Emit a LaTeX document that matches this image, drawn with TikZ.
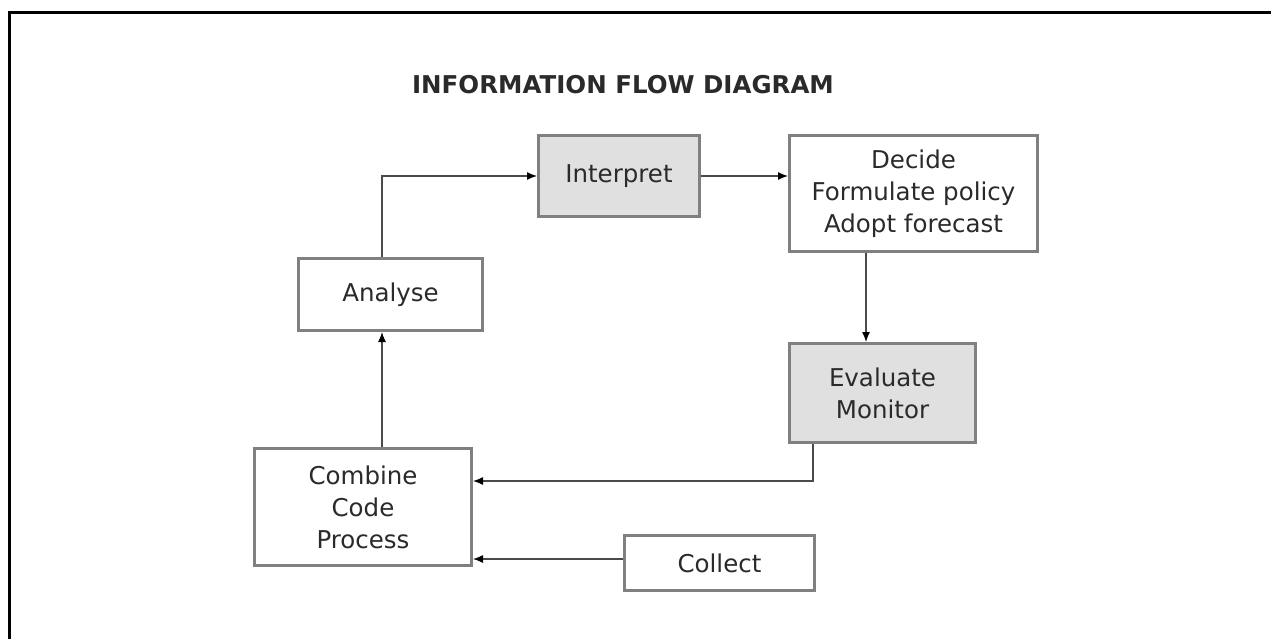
\documentclass[tikz,border=0pt]{standalone}
\usepackage{fontspec}
\setmainfont{DejaVu Sans}
\usetikzlibrary{arrows.meta}

\definecolor{boxedge}{HTML}{808080}
\definecolor{boxfill}{HTML}{E0E0E0}
\definecolor{ink}{HTML}{2A2A2A}
\definecolor{wire}{HTML}{4A4A4A}

\begin{document}
\begin{tikzpicture}[x=1pt,y=-1pt,
  box/.style={draw=boxedge, line width=3pt, fill=white, inner sep=0pt,
    text=ink, align=center, font=\fontsize{24.5}{32}\selectfont},
  shaded/.style={box, fill=boxfill},
  flow/.style={draw=wire, line width=1.3pt,
    -{Latex[length=10pt,width=8pt,color=black]}},
  heading/.style={text=ink, font=\bfseries\fontsize{24.5}{28}\selectfont}]

\useasboundingbox (0,0) rectangle (1271,639);

% frame along the top and left edges
\draw[line width=3pt] (9,639) -- (9,13) -- (1271,13);

\node[heading] (title) at (623,85) {INFORMATION FLOW DIAGRAM};

% process boxes
\node[shaded, minimum width=161pt, minimum height=81pt] (interp) at (619,176) {Interpret};
\node[box, minimum width=248pt, minimum height=116pt] (decide) at (913.5,193.5)
  {Decide\\Formulate policy\\Adopt forecast};
\node[box, minimum width=184pt, minimum height=72pt] (analyse) at (390.5,294.5) {Analyse};
\node[box, minimum width=217pt, minimum height=117pt] (combine) at (363,507)
  {Combine\\Code\\Process};
\node[shaded, minimum width=186pt, minimum height=99pt] (evaluate) at (882.5,393)
  {Evaluate\\Monitor};
\node[box, minimum width=190pt, minimum height=55pt] (collect) at (719.5,563) {Collect};

% connector guide positions
\coordinate (upx) at (382,0);
\coordinate (downx) at (866,0);
\coordinate (backx) at (813,0);
\coordinate (backy) at (0,481);
\coordinate (iny) at (0,559);

% connectors
\draw[flow] (combine.north -| upx) -- (analyse.south -| upx);
\draw[flow] (analyse.north -| upx) |- (interp.west);
\draw[flow] (interp.east) -- (interp.east -| decide.west);
\draw[flow] (decide.south -| downx) -- (evaluate.north -| downx);
\draw[flow] (evaluate.south -| backx) |- (combine.east |- backy);
\draw[flow] (collect.west |- iny) -- (combine.east |- iny);
\end{tikzpicture}
\end{document}
